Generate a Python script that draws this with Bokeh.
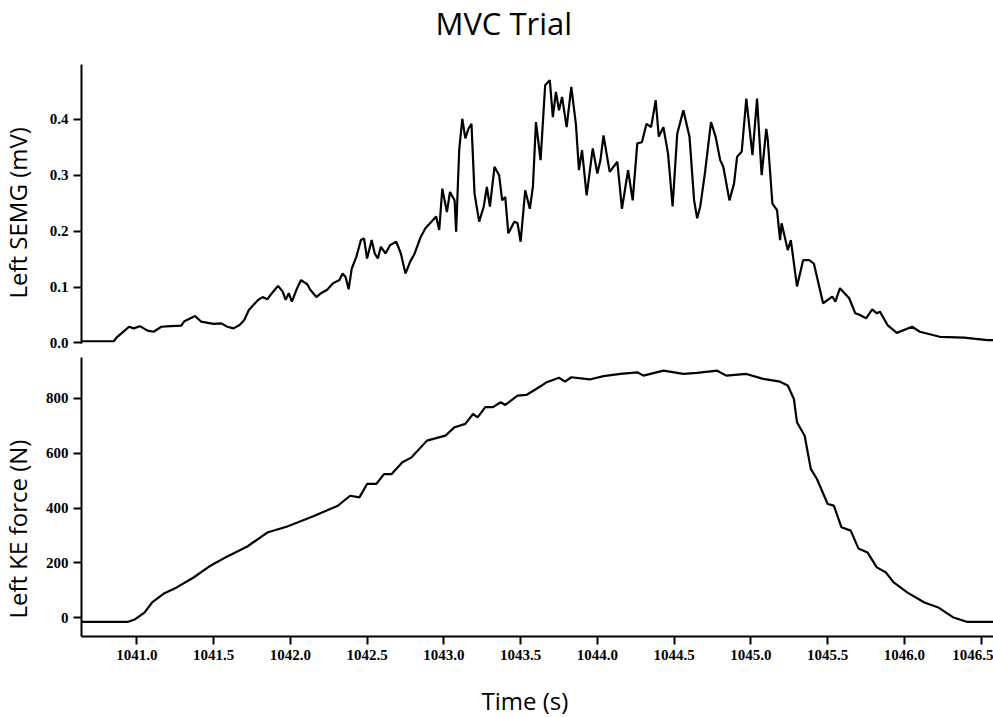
import math
from bokeh.plotting import figure
from bokeh.layouts import column, row
from bokeh.models import Range1d, FixedTicker, NumeralTickFormatter, Label
from bokeh.embed import file_html
from bokeh.resources import INLINE

emg_time = [1040.64, 1040.85, 1040.87, 1040.90, 1040.95, 1040.98, 1041.02, 1041.07, 1041.11, 1041.16,
            1041.22, 1041.29, 1041.31, 1041.38, 1041.42, 1041.50, 1041.55, 1041.59, 1041.63, 1041.67,
            1041.70, 1041.73, 1041.79, 1041.82, 1041.85, 1041.88, 1041.92, 1041.95, 1041.97, 1041.99,
            1042.01, 1042.04, 1042.07, 1042.11, 1042.13, 1042.17, 1042.20, 1042.24, 1042.28, 1042.32,
            1042.34, 1042.36, 1042.38, 1042.40, 1042.43, 1042.46, 1042.48, 1042.50, 1042.53, 1042.55,
            1042.57, 1042.59, 1042.62, 1042.65, 1042.69, 1042.72, 1042.75, 1042.78, 1042.81, 1042.85,
            1042.88, 1042.91, 1042.95, 1042.97, 1042.99, 1043.02, 1043.04, 1043.07, 1043.08, 1043.10,
            1043.12, 1043.14, 1043.16, 1043.18, 1043.20, 1043.23, 1043.26, 1043.28, 1043.30, 1043.33,
            1043.36, 1043.38, 1043.40, 1043.42, 1043.46, 1043.48, 1043.50, 1043.53, 1043.56, 1043.58,
            1043.60, 1043.63, 1043.66, 1043.69, 1043.71, 1043.73, 1043.75, 1043.77, 1043.80, 1043.83,
            1043.86, 1043.88, 1043.90, 1043.93, 1043.97, 1044.00, 1044.02, 1044.04, 1044.08, 1044.13,
            1044.16, 1044.20, 1044.23, 1044.26, 1044.29, 1044.32, 1044.35, 1044.38, 1044.40, 1044.43,
            1044.46, 1044.49, 1044.52, 1044.56, 1044.60, 1044.63, 1044.65, 1044.67, 1044.70, 1044.74,
            1044.77, 1044.80, 1044.82, 1044.86, 1044.89, 1044.91, 1044.94, 1044.97, 1045.01, 1045.04,
            1045.07, 1045.10, 1045.11, 1045.14, 1045.17, 1045.19, 1045.20, 1045.24, 1045.26, 1045.30,
            1045.34, 1045.38, 1045.41, 1045.47, 1045.53, 1045.55, 1045.58, 1045.64, 1045.68, 1045.71,
            1045.75, 1045.79, 1045.82, 1045.84, 1045.89, 1045.95, 1046.05, 1046.10, 1046.23, 1046.39,
            1046.54, 1046.58]
emg_mv = [0.003, 0.003, 0.010, 0.017, 0.029, 0.026, 0.030, 0.022, 0.020, 0.029,
          0.030, 0.031, 0.039, 0.048, 0.038, 0.034, 0.035, 0.029, 0.026, 0.032,
          0.041, 0.059, 0.077, 0.082, 0.078, 0.089, 0.102, 0.092, 0.077, 0.089,
          0.074, 0.095, 0.1125, 0.105, 0.095, 0.082, 0.089, 0.095, 0.107, 0.1125,
          0.124, 0.118, 0.096, 0.133, 0.154, 0.184, 0.187, 0.151, 0.184, 0.160,
          0.151, 0.172, 0.160, 0.175, 0.181, 0.160, 0.124, 0.145, 0.160, 0.190,
          0.205, 0.214, 0.226, 0.202, 0.276, 0.234, 0.270, 0.255, 0.199, 0.345,
          0.401, 0.366, 0.383, 0.392, 0.267, 0.217, 0.244, 0.279, 0.244, 0.315,
          0.300, 0.255, 0.261, 0.196, 0.217, 0.214, 0.181, 0.273, 0.240, 0.279,
          0.395, 0.327, 0.461, 0.470, 0.404, 0.449, 0.416, 0.440, 0.386, 0.458,
          0.392, 0.309, 0.345, 0.264, 0.348, 0.303, 0.327, 0.371, 0.306, 0.324,
          0.240, 0.309, 0.255, 0.357, 0.359, 0.392, 0.386, 0.434, 0.369, 0.386,
          0.339, 0.244, 0.374, 0.416, 0.369, 0.255, 0.223, 0.244, 0.303, 0.395,
          0.369, 0.327, 0.315, 0.255, 0.285, 0.333, 0.342, 0.437, 0.336, 0.437,
          0.300, 0.383, 0.3625, 0.249, 0.2375, 0.184, 0.214, 0.166, 0.184, 0.101,
          0.148, 0.148, 0.142, 0.071, 0.083, 0.074, 0.098, 0.080, 0.053, 0.050,
          0.044, 0.060, 0.053, 0.056, 0.032, 0.018, 0.029, 0.020, 0.011, 0.0095,
          0.005, 0.005]

force_time = [1040.64, 1040.94, 1040.99, 1041.05, 1041.10, 1041.18, 1041.26, 1041.37, 1041.48, 1041.59,
              1041.72, 1041.85, 1041.98, 1042.15, 1042.31, 1042.39, 1042.45, 1042.50, 1042.56, 1042.61,
              1042.66, 1042.73, 1042.79, 1042.89, 1043.01, 1043.07, 1043.14, 1043.19, 1043.22, 1043.27,
              1043.32, 1043.37, 1043.40, 1043.48, 1043.54, 1043.63, 1043.67, 1043.75, 1043.79, 1043.83,
              1043.95, 1044.04, 1044.15, 1044.26, 1044.30, 1044.43, 1044.56, 1044.65, 1044.78, 1044.84,
              1044.97, 1045.08, 1045.19, 1045.24, 1045.28, 1045.30, 1045.35, 1045.39, 1045.43, 1045.50,
              1045.54, 1045.59, 1045.65, 1045.70, 1045.76, 1045.82, 1045.88, 1045.93, 1046.02, 1046.13,
              1046.22, 1046.32, 1046.41, 1046.58]
force_n = [-15, -15, -5, 19, 56, 90, 111, 147, 190, 224,
           260, 311, 333, 370, 409, 445, 439, 488, 488, 524,
           524, 567, 585, 646, 664, 695, 707, 743, 731, 768,
           768, 786, 776, 810, 813, 844, 859, 875, 861, 877,
           869, 881, 889, 895, 883, 901, 889, 893, 901, 883,
           889, 871, 861, 847, 798, 713, 664, 543, 506, 415,
           409, 330, 318, 253, 238, 184, 165, 129, 92, 56,
           38, 1, -15, -15]

emg_ticks = [0.0, 0.1, 0.2, 0.3, 0.4]
force_ticks = [0, 200, 400, 600, 800]
time_ticks = [1041.0, 1041.5, 1042.0, 1042.5, 1043.0, 1043.5, 1044.0, 1044.5, 1045.0, 1045.5, 1046.0, 1046.5]

title_text = "MVC Trial"
emg_label = "Left SEMG (mV)"
force_label = "Left KE force (N)"
time_label = "Time (s)"

LABEL_FONT = "Open Sans"
TICK_FONT = "Liberation Serif"

LEFT_W = 42          # width of the strip holding the rotated axis titles
MAIN_W = 993 - LEFT_W

x_range = Range1d(1040.64, 1046.58)


def style_axis(ax):
    ax.axis_line_width = 2
    ax.axis_line_color = "black"
    ax.major_tick_line_width = 2
    ax.major_tick_line_color = "black"
    ax.major_tick_in = 0
    ax.major_tick_out = 8
    ax.minor_tick_line_color = None
    ax.major_label_text_font = TICK_FONT
    ax.major_label_text_font_size = "15px"
    ax.major_label_text_font_style = "bold"
    ax.major_label_text_color = "black"
    ax.major_label_standoff = 5


def blank(width, height):
    f = figure(width=width, height=height, x_range=Range1d(0, 1), y_range=Range1d(0, 1),
               output_backend="svg", toolbar_location=None,
               x_axis_location=None, y_axis_location=None,
               min_border=0, min_border_left=0, min_border_right=0,
               min_border_top=0, min_border_bottom=0)
    f.grid.visible = False
    f.outline_line_color = None
    return f


def screen_label(text, x, y, size, angle=0.0):
    return Label(x=x, y=y, x_units="screen", y_units="screen", text=text, angle=angle,
                 text_font=LABEL_FONT, text_font_size=size, text_color="black",
                 text_align="left", text_baseline="alphabetic" if angle == 0 else "middle")


# strip on the left with the rotated y-axis titles (full page height)
left = blank(LEFT_W, 717)
left.add_layout(screen_label(emg_label, 17, 717 - 298, "24px", angle=math.pi / 2))
left.add_layout(screen_label(force_label, 17, 717 - 618, "24px", angle=math.pi / 2))

# title strip
head = blank(MAIN_W, 44)
head.add_layout(screen_label(title_text, 354, 22, "31px"))

top = figure(width=MAIN_W, height=306, x_range=x_range, y_range=Range1d(-0.001, 0.498),
             output_backend="svg", toolbar_location=None, x_axis_location=None,
             min_border_left=81 - LEFT_W, min_border_right=0, min_border_top=20, min_border_bottom=7)
top.line(emg_time, emg_mv, line_color="black", line_width=2.2)
top.yaxis.ticker = FixedTicker(ticks=emg_ticks)
top.yaxis.formatter = NumeralTickFormatter(format="0.0")
style_axis(top.yaxis[0])
top.grid.visible = False
top.outline_line_color = None

bot = figure(width=MAIN_W, height=320, x_range=x_range, y_range=Range1d(-68, 949),
             output_backend="svg", toolbar_location=None,
             min_border_left=81 - LEFT_W, min_border_right=0, min_border_top=7, min_border_bottom=34)
bot.line(force_time, force_n, line_color="black", line_width=2.2)
bot.yaxis.ticker = FixedTicker(ticks=force_ticks)
bot.yaxis.formatter = NumeralTickFormatter(format="0")
bot.xaxis.ticker = FixedTicker(ticks=time_ticks)
bot.xaxis.formatter = NumeralTickFormatter(format="0.0")
style_axis(bot.yaxis[0])
style_axis(bot.xaxis[0])
bot.grid.visible = False
bot.outline_line_color = None

# strip below with the x-axis title
foot = blank(MAIN_W, 717 - 44 - 306 - 320)
foot.add_layout(screen_label(time_label, 400, 17, "24px"))

layout = row(left, column(head, top, bot, foot, spacing=0), spacing=0)
open("out.html", "w").write(file_html(layout, INLINE))
